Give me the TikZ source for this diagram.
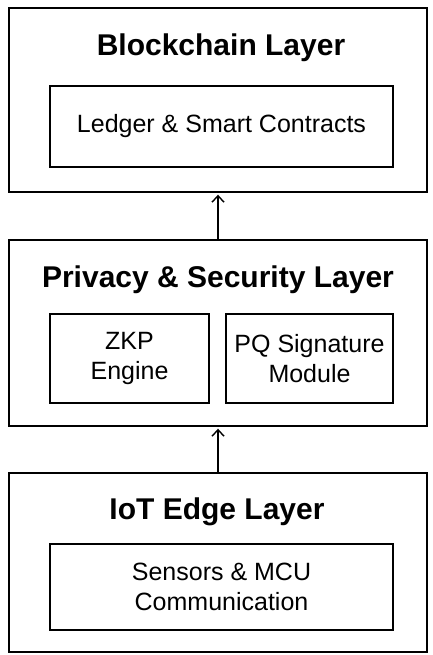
\documentclass[tikz,border=0pt]{standalone}
\usepackage{fontspec}
\setmainfont{Liberation Sans}
\usetikzlibrary{arrows.meta}
\begin{document}
\begin{tikzpicture}[x=1pt,y=1pt,
  layerbox/.style={draw, line width=1.4pt, minimum width=418pt, inner sep=0pt},
  compbox/.style={draw, line width=1.4pt, inner sep=0pt, align=center, font=\fontsize{25}{30}\selectfont},
  title/.style={inner sep=0pt, font=\fontsize{30}{34}\selectfont\bfseries},
  uparrow/.style={line width=1.4pt, -{Straight Barb[length=6.5pt,width=12pt,line width=1.4pt]}}]
\useasboundingbox (0,0) rectangle (433,-655);
\fill[white] (0,0) rectangle (433,-655);
% layer boxes
\node[layerbox, minimum height=184pt] (L1) at (218,-100) {};
\node[layerbox, minimum height=186pt] (L2) at (218,-333) {};
\node[layerbox, minimum height=179pt] (L3) at (218,-562.5) {};
% titles
\node[title] (T1) at (221,-48) {Blockchain Layer};
\node[title] (T2) at (218,-280) {Privacy \& Security Layer};
\node[title] (T3) at (217,-512) {IoT Edge Layer};
% components
\node[compbox, minimum width=343pt, minimum height=81pt] (C1) at (221.5,-126.5) {Ledger \& Smart Contracts};
\node[compbox, minimum width=159pt, minimum height=89pt] (C2a) at (129.5,-358.5) {ZKP\\Engine};
\node[compbox, minimum width=167pt, minimum height=89pt] (C2b) at (309.5,-358.5) {PQ Signature\\Module};
\node[compbox, minimum width=343pt, minimum height=86pt] (C3) at (221.5,-587) {Sensors \& MCU\\Communication};
% arrows
\draw[uparrow] (L2.north) -- ([yshift=-2pt]L1.south);
\draw[uparrow] (L3.north) -- ([yshift=-2pt]L2.south);
\end{tikzpicture}
\end{document}
